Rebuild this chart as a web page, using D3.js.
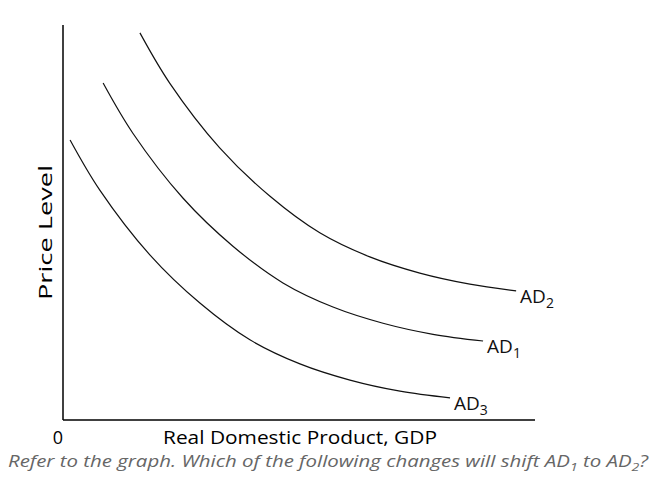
<!DOCTYPE html>
<html><head><meta charset="utf-8">
<script src="https://cdn.jsdelivr.net/npm/d3@7"></script>
<style>body{margin:0;background:#fff}text{font-family:"Open Sans",Lato,sans-serif}</style>
</head><body><svg id="c" width="653" height="485"></svg>
<script>
const seriesNames = ["AD3","AD1","AD2"];
const ad3 = [[1.5,70.9],[7.8,58.2],[18.4,41.8],[29.0,29.6],[39.6,20.3],[50.2,14.2],[60.8,10.1],[71.4,7.3],[82.0,5.6]];
const ad1 = [[8.5,85.3],[14.8,72.6],[25.4,56.2],[36.0,44.0],[46.6,34.7],[57.2,28.6],[67.8,24.5],[78.4,21.7],[89.0,20.0]];
const ad2 = [[16.3,98.0],[22.6,85.3],[33.2,68.9],[43.8,56.7],[54.4,47.4],[65.0,41.3],[75.6,37.2],[86.2,34.4],[96.0,32.7]];
const series = [ad3, ad1, ad2];
const svg = d3.select("#c");
const x = d3.scaleLinear().domain([0,100]).range([63,535]);
const y = d3.scaleLinear().domain([0,100]).range([420,25]);
svg.append("line").attr("x1",63).attr("x2",63).attr("y1",25).attr("y2",420).attr("stroke","#000").attr("stroke-width",1.5);
svg.append("line").attr("x1",63).attr("x2",535).attr("y1",420).attr("y2",420).attr("stroke","#000").attr("stroke-width",1.5);
const line = d3.line().x(d=>x(d[0])).y(d=>y(d[1])).curve(d3.curveCatmullRom);
series.forEach((s,i)=>{
  svg.append("path").attr("d",line(s)).attr("fill","none").attr("stroke","#111").attr("stroke-width",1.2);
  const last = s[s.length-1];
  const t = svg.append("text").attr("x",x(last[0])+4).attr("y",y(last[1])+12).attr("font-size",19).attr("fill","#111");
  t.append("tspan").text(seriesNames[i].slice(0,2));
  t.append("tspan").text(seriesNames[i].slice(2)).attr("font-size",14).attr("dy",5);
});
svg.append("text").attr("x",58).attr("y",444).attr("font-size",18).attr("text-anchor","middle").text("0");
svg.append("text").attr("x",163).attr("y",444).attr("font-size",18).attr("textLength",274).attr("lengthAdjust","spacingAndGlyphs").text("Real Domestic Product, GDP");
svg.append("text").attr("transform","translate(52,300) rotate(-90)").attr("font-size",18).attr("textLength",135).attr("lengthAdjust","spacingAndGlyphs").text("Price Level");
const cap = svg.append("text").attr("x",8).attr("y",467).attr("font-size",16).attr("font-style","italic").attr("fill","#666").attr("textLength",640).attr("lengthAdjust","spacingAndGlyphs");
cap.append("tspan").text("Refer to the graph. Which of the following changes will shift AD");
cap.append("tspan").text("1").attr("font-size",11).attr("dy",4);
cap.append("tspan").text(" to AD").attr("dy",-4);
cap.append("tspan").text("2").attr("font-size",11).attr("dy",4);
cap.append("tspan").text("?").attr("dy",-4);
</script></body></html>
